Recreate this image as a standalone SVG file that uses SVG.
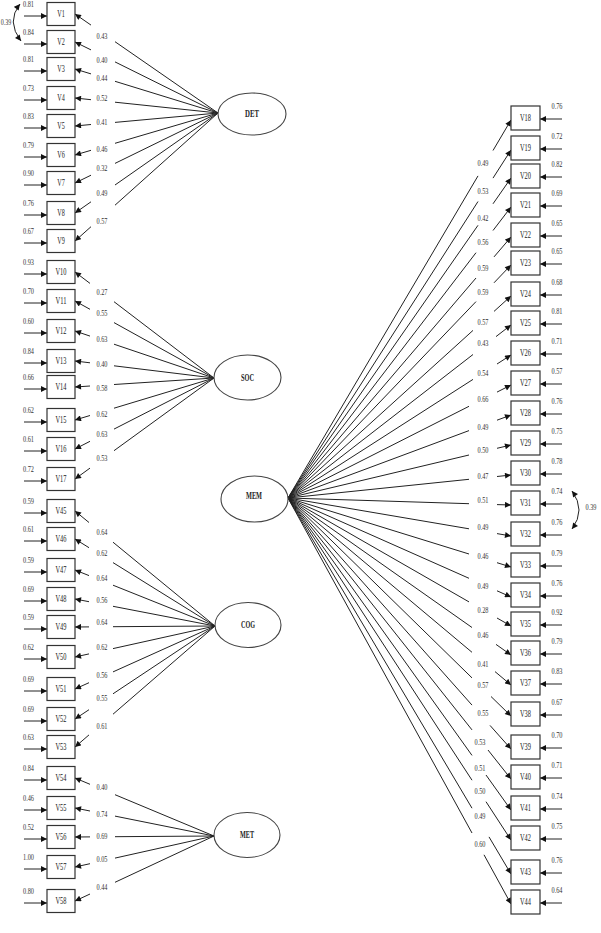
<svg xmlns="http://www.w3.org/2000/svg" width="601" height="933" viewBox="0 0 601 933">
<defs>
<style>
.box{fill:#fff;stroke:#333;stroke-width:1.2}
.lat{fill:#fff;stroke:#444;stroke-width:1.1}
.ln{stroke:#222;stroke-width:1;fill:none}
.ar{stroke:#222;stroke-width:1;fill:none;marker-end:url(#ah)}
.cv{stroke:#222;stroke-width:1;fill:none;marker-start:url(#ah);marker-end:url(#ah)}
.t{font-family:"Liberation Serif","Times New Roman",serif;font-size:8.5px;fill:#333;text-anchor:middle}
.v{font-family:"Liberation Serif","Times New Roman",serif;font-size:9.5px;fill:#222;text-anchor:middle}
.lt{font-family:"Liberation Serif","Times New Roman",serif;font-size:9.5px;font-weight:bold;fill:#222;text-anchor:middle}
</style>
<marker id="ah" viewBox="0 0 10 10" refX="10" refY="5" markerWidth="7" markerHeight="6" markerUnits="userSpaceOnUse" orient="auto-start-reverse"><path d="M0,0L10,5L0,10z" fill="#111"/></marker>
</defs>
<rect width="601" height="933" fill="#fff"/>

<g id="connectors">
<path class="ln" d="M218,113L115,41.7M218,113L115,61.9M218,113L115,81.3M218,113L115,102.2M218,113L115,122.4M218,113L115,143.3M218,113L115,163.4M218,113L115,185M218,113L115,205.2"/>
<path class="ar" d="M91,25.1L75,14"/><path class="ar" d="M91,49.9L75,42"/><path class="ar" d="M91,73.9L75,69"/><path class="ar" d="M91,99.7L75,98"/><path class="ar" d="M91,124.5L75,126"/><path class="ar" d="M91,150.3L75,155"/><path class="ar" d="M91,175.2L75,183"/><path class="ar" d="M91,201.8L75,213"/><path class="ar" d="M91,226.7L75,241"/>
<path class="ln" d="M214,378L114,301.7M214,378L114,322.6M214,378L114,344.2M214,378L114,365.8M214,378L114,384.5M214,378L114,408.2M214,378L114,429.1M214,378L114,450.7"/>
<path class="ar" d="M90,283.4L75,272"/><path class="ar" d="M90,309.3L75,301"/><path class="ar" d="M90,336.1L75,331"/><path class="ar" d="M90,362.8L75,361"/><path class="ar" d="M90,386L75,387"/><path class="ar" d="M90,415.5L75,420"/><path class="ar" d="M90,441.3L75,449"/><path class="ar" d="M90,468.1L75,479"/>
<path class="ln" d="M215,626L113,542.2M215,626L113,562.6M215,626L113,585.2M215,626L113,606.3M215,626L113,626.7M215,626L113,648.6M215,626L113,671.9M215,626L113,693.8M215,626L113,714.2"/>
<path class="ar" d="M89,522.5L75,511"/><path class="ar" d="M89,547.7L75,539"/><path class="ar" d="M89,575.6L75,570"/><path class="ar" d="M89,601.7L75,599"/><path class="ar" d="M89,626.9L75,627"/><path class="ar" d="M89,653.9L75,657"/><path class="ar" d="M89,682.7L75,689"/><path class="ar" d="M89,709.7L75,719"/><path class="ar" d="M89,734.9L75,747"/>
<path class="ln" d="M214,836L115,794.7M214,836L115,816.1M214,836L115,836.7M214,836L115,858.1M214,836L115,882.3"/>
<path class="ar" d="M90,784.3L75,778"/><path class="ar" d="M90,811L75,808"/><path class="ar" d="M90,836.9L75,837"/><path class="ar" d="M90,863.7L75,867"/><path class="ar" d="M90,894L75,901"/>
<path class="ln" d="M288,498L478,175.9M288,498L478,201.5M288,498L478,225.3M288,498L476,252.7M288,498L476,278M288,498L476,301.6M288,498L473,330.4M288,498L473,354.5M288,498L473,379.4M288,498L469,406.3M288,498L469,430.6M288,498L469,455M288,498L469,479.3M288,498L469,503.7M288,498L469,528.8M288,498L469,554M288,498L469,578.3M288,498L469,601.9M288,498L472,627.5M288,498L472,652.3M288,498L472,677.9M288,498L472,705.1M288,498L472,729.9M288,498L472,755.4M288,498L472,780.2M288,498L472,808.2M288,498L472,833"/>
<path class="ar" d="M493,150.5L511,120"/><path class="ar" d="M493,178.1L511,150"/><path class="ar" d="M493,203.8L511,178"/><path class="ar" d="M493,230.5L511,207"/><path class="ar" d="M494,256.9L511,237"/><path class="ar" d="M494,282.8L511,265"/><path class="ar" d="M494,311.4L511,296"/><path class="ar" d="M496,336.6L511,325"/><path class="ar" d="M497,364L511,355"/><path class="ar" d="M497,392.1L511,385"/><path class="ar" d="M497,420.2L511,415"/><path class="ar" d="M497,448.3L511,445"/><path class="ar" d="M497,476.5L511,475"/><path class="ar" d="M497,504.6L511,505"/><path class="ar" d="M497,533.6L511,536"/><path class="ar" d="M497,562.7L511,567"/><path class="ar" d="M497,590.8L511,597"/><path class="ar" d="M497,618L511,626"/><path class="ar" d="M496,644.4L511,655"/><path class="ar" d="M495,671.6L511,685"/><path class="ar" d="M491,696.5L511,716"/><path class="ar" d="M490,725.4L511,749"/><path class="ar" d="M488,750L511,779"/><path class="ar" d="M486,775L511,810"/><path class="ar" d="M486,801.7L511,840"/><path class="ar" d="M489,836.9L511,874"/><path class="ar" d="M484,854.8L511,904"/>
<path class="ar" d="M24,16H47"/><path class="ar" d="M24,44H47"/><path class="ar" d="M24,71H47"/><path class="ar" d="M24,100H47"/><path class="ar" d="M24,128H47"/><path class="ar" d="M24,157H47"/><path class="ar" d="M24,185H47"/><path class="ar" d="M24,215H47"/><path class="ar" d="M24,243H47"/><path class="ar" d="M24,274H47"/><path class="ar" d="M24,303H47"/><path class="ar" d="M24,333H47"/><path class="ar" d="M24,363H47"/><path class="ar" d="M24,389H47"/><path class="ar" d="M24,422H47"/><path class="ar" d="M24,451H47"/><path class="ar" d="M24,481H47"/><path class="ar" d="M24,513H47"/><path class="ar" d="M24,541H47"/><path class="ar" d="M24,572H47"/><path class="ar" d="M24,601H47"/><path class="ar" d="M24,629H47"/><path class="ar" d="M24,659H47"/><path class="ar" d="M24,691H47"/><path class="ar" d="M24,721H47"/><path class="ar" d="M24,749H47"/><path class="ar" d="M24,780H47"/><path class="ar" d="M24,810H47"/><path class="ar" d="M24,839H47"/><path class="ar" d="M24,869H47"/><path class="ar" d="M24,903H47"/>
<path class="ar" d="M562,119H540"/><path class="ar" d="M562,149H540"/><path class="ar" d="M562,177H540"/><path class="ar" d="M562,206H540"/><path class="ar" d="M562,236H540"/><path class="ar" d="M562,264H540"/><path class="ar" d="M562,295H540"/><path class="ar" d="M562,324H540"/><path class="ar" d="M562,354H540"/><path class="ar" d="M562,384H540"/><path class="ar" d="M562,414H540"/><path class="ar" d="M562,444H540"/><path class="ar" d="M562,474H540"/><path class="ar" d="M562,504H540"/><path class="ar" d="M562,535H540"/><path class="ar" d="M562,566H540"/><path class="ar" d="M562,596H540"/><path class="ar" d="M562,625H540"/><path class="ar" d="M562,654H540"/><path class="ar" d="M562,684H540"/><path class="ar" d="M562,715H540"/><path class="ar" d="M562,748H540"/><path class="ar" d="M562,778H540"/><path class="ar" d="M562,809H540"/><path class="ar" d="M562,839H540"/><path class="ar" d="M562,873H540"/><path class="ar" d="M562,903H540"/>
<path class="cv" d="M20,4Q6,21.5 21,41"/>
<path class="cv" d="M572,491Q586,510 572,529"/>
</g>

<g id="labels" class="t">
<text class="t" x="6" y="25" textLength="10.5" lengthAdjust="spacingAndGlyphs">0.39</text>
<text class="t" x="591" y="510" textLength="11" lengthAdjust="spacingAndGlyphs">0.39</text>
<text class="t" x="102" y="39" textLength="11" lengthAdjust="spacingAndGlyphs">0.43</text>
<text class="t" x="102" y="63" textLength="11" lengthAdjust="spacingAndGlyphs">0.40</text>
<text class="t" x="102" y="80.7" textLength="11" lengthAdjust="spacingAndGlyphs">0.44</text>
<text class="t" x="102" y="100.7" textLength="11" lengthAdjust="spacingAndGlyphs">0.52</text>
<text class="t" x="102" y="125" textLength="11" lengthAdjust="spacingAndGlyphs">0.41</text>
<text class="t" x="102" y="152" textLength="11" lengthAdjust="spacingAndGlyphs">0.46</text>
<text class="t" x="102" y="171" textLength="11" lengthAdjust="spacingAndGlyphs">0.32</text>
<text class="t" x="102" y="196" textLength="11" lengthAdjust="spacingAndGlyphs">0.49</text>
<text class="t" x="102" y="223.7" textLength="11" lengthAdjust="spacingAndGlyphs">0.57</text>
<text class="t" x="102" y="294.7" textLength="11" lengthAdjust="spacingAndGlyphs">0.27</text>
<text class="t" x="102" y="315.7" textLength="11" lengthAdjust="spacingAndGlyphs">0.55</text>
<text class="t" x="102" y="342" textLength="11" lengthAdjust="spacingAndGlyphs">0.63</text>
<text class="t" x="102" y="367" textLength="11" lengthAdjust="spacingAndGlyphs">0.40</text>
<text class="t" x="102" y="391" textLength="11" lengthAdjust="spacingAndGlyphs">0.58</text>
<text class="t" x="102" y="417" textLength="11" lengthAdjust="spacingAndGlyphs">0.62</text>
<text class="t" x="102" y="437" textLength="11" lengthAdjust="spacingAndGlyphs">0.63</text>
<text class="t" x="102" y="461" textLength="11" lengthAdjust="spacingAndGlyphs">0.53</text>
<text class="t" x="102" y="534.7" textLength="11" lengthAdjust="spacingAndGlyphs">0.64</text>
<text class="t" x="102" y="556" textLength="11" lengthAdjust="spacingAndGlyphs">0.62</text>
<text class="t" x="102" y="580.7" textLength="11" lengthAdjust="spacingAndGlyphs">0.64</text>
<text class="t" x="102" y="603" textLength="11" lengthAdjust="spacingAndGlyphs">0.56</text>
<text class="t" x="102" y="624.7" textLength="11" lengthAdjust="spacingAndGlyphs">0.64</text>
<text class="t" x="102" y="650" textLength="11" lengthAdjust="spacingAndGlyphs">0.62</text>
<text class="t" x="102" y="678" textLength="11" lengthAdjust="spacingAndGlyphs">0.56</text>
<text class="t" x="102" y="700.7" textLength="11" lengthAdjust="spacingAndGlyphs">0.55</text>
<text class="t" x="102" y="729" textLength="11" lengthAdjust="spacingAndGlyphs">0.61</text>
<text class="t" x="102" y="790" textLength="11" lengthAdjust="spacingAndGlyphs">0.40</text>
<text class="t" x="102" y="817" textLength="11" lengthAdjust="spacingAndGlyphs">0.74</text>
<text class="t" x="102" y="838.7" textLength="11" lengthAdjust="spacingAndGlyphs">0.69</text>
<text class="t" x="102" y="862" textLength="11" lengthAdjust="spacingAndGlyphs">0.05</text>
<text class="t" x="102" y="889.7" textLength="11" lengthAdjust="spacingAndGlyphs">0.44</text>
<text class="t" x="483" y="166.3" textLength="11" lengthAdjust="spacingAndGlyphs">0.49</text>
<text class="t" x="483" y="193.7" textLength="11" lengthAdjust="spacingAndGlyphs">0.53</text>
<text class="t" x="483" y="220.7" textLength="11" lengthAdjust="spacingAndGlyphs">0.42</text>
<text class="t" x="483" y="244.7" textLength="11" lengthAdjust="spacingAndGlyphs">0.56</text>
<text class="t" x="483" y="271.3" textLength="11" lengthAdjust="spacingAndGlyphs">0.59</text>
<text class="t" x="483" y="294.7" textLength="11" lengthAdjust="spacingAndGlyphs">0.59</text>
<text class="t" x="483" y="324.7" textLength="11" lengthAdjust="spacingAndGlyphs">0.57</text>
<text class="t" x="483" y="346.3" textLength="11" lengthAdjust="spacingAndGlyphs">0.43</text>
<text class="t" x="483" y="375.7" textLength="11" lengthAdjust="spacingAndGlyphs">0.54</text>
<text class="t" x="483" y="402.3" textLength="11" lengthAdjust="spacingAndGlyphs">0.66</text>
<text class="t" x="483" y="429.7" textLength="11" lengthAdjust="spacingAndGlyphs">0.49</text>
<text class="t" x="483" y="453" textLength="11" lengthAdjust="spacingAndGlyphs">0.50</text>
<text class="t" x="483" y="479" textLength="11" lengthAdjust="spacingAndGlyphs">0.47</text>
<text class="t" x="483" y="503" textLength="11" lengthAdjust="spacingAndGlyphs">0.51</text>
<text class="t" x="483" y="530.3" textLength="11" lengthAdjust="spacingAndGlyphs">0.49</text>
<text class="t" x="483" y="558.7" textLength="11" lengthAdjust="spacingAndGlyphs">0.46</text>
<text class="t" x="483" y="589" textLength="11" lengthAdjust="spacingAndGlyphs">0.49</text>
<text class="t" x="483" y="613" textLength="11" lengthAdjust="spacingAndGlyphs">0.28</text>
<text class="t" x="483" y="638" textLength="11" lengthAdjust="spacingAndGlyphs">0.46</text>
<text class="t" x="483" y="667.3" textLength="11" lengthAdjust="spacingAndGlyphs">0.41</text>
<text class="t" x="483" y="688" textLength="11" lengthAdjust="spacingAndGlyphs">0.57</text>
<text class="t" x="483" y="715.7" textLength="11" lengthAdjust="spacingAndGlyphs">0.55</text>
<text class="t" x="480" y="744.7" textLength="11" lengthAdjust="spacingAndGlyphs">0.53</text>
<text class="t" x="480" y="770.7" textLength="11" lengthAdjust="spacingAndGlyphs">0.51</text>
<text class="t" x="480" y="794" textLength="11" lengthAdjust="spacingAndGlyphs">0.50</text>
<text class="t" x="480" y="819" textLength="11" lengthAdjust="spacingAndGlyphs">0.49</text>
<text class="t" x="480" y="847.3" textLength="11" lengthAdjust="spacingAndGlyphs">0.60</text>
<text class="t" x="28.5" y="7" textLength="11" lengthAdjust="spacingAndGlyphs">0.81</text>
<text class="t" x="28.5" y="35" textLength="11" lengthAdjust="spacingAndGlyphs">0.84</text>
<text class="t" x="28.5" y="62" textLength="11" lengthAdjust="spacingAndGlyphs">0.81</text>
<text class="t" x="28.5" y="91" textLength="11" lengthAdjust="spacingAndGlyphs">0.73</text>
<text class="t" x="28.5" y="119" textLength="11" lengthAdjust="spacingAndGlyphs">0.83</text>
<text class="t" x="28.5" y="148" textLength="11" lengthAdjust="spacingAndGlyphs">0.79</text>
<text class="t" x="28.5" y="176" textLength="11" lengthAdjust="spacingAndGlyphs">0.90</text>
<text class="t" x="28.5" y="206" textLength="11" lengthAdjust="spacingAndGlyphs">0.76</text>
<text class="t" x="28.5" y="234" textLength="11" lengthAdjust="spacingAndGlyphs">0.67</text>
<text class="t" x="28.5" y="265" textLength="11" lengthAdjust="spacingAndGlyphs">0.93</text>
<text class="t" x="28.5" y="294" textLength="11" lengthAdjust="spacingAndGlyphs">0.70</text>
<text class="t" x="28.5" y="324" textLength="11" lengthAdjust="spacingAndGlyphs">0.60</text>
<text class="t" x="28.5" y="354" textLength="11" lengthAdjust="spacingAndGlyphs">0.84</text>
<text class="t" x="28.5" y="380" textLength="11" lengthAdjust="spacingAndGlyphs">0.66</text>
<text class="t" x="28.5" y="413" textLength="11" lengthAdjust="spacingAndGlyphs">0.62</text>
<text class="t" x="28.5" y="442" textLength="11" lengthAdjust="spacingAndGlyphs">0.61</text>
<text class="t" x="28.5" y="472" textLength="11" lengthAdjust="spacingAndGlyphs">0.72</text>
<text class="t" x="28.5" y="504" textLength="11" lengthAdjust="spacingAndGlyphs">0.59</text>
<text class="t" x="28.5" y="532" textLength="11" lengthAdjust="spacingAndGlyphs">0.61</text>
<text class="t" x="28.5" y="563" textLength="11" lengthAdjust="spacingAndGlyphs">0.59</text>
<text class="t" x="28.5" y="592" textLength="11" lengthAdjust="spacingAndGlyphs">0.69</text>
<text class="t" x="28.5" y="620" textLength="11" lengthAdjust="spacingAndGlyphs">0.59</text>
<text class="t" x="28.5" y="650" textLength="11" lengthAdjust="spacingAndGlyphs">0.62</text>
<text class="t" x="28.5" y="682" textLength="11" lengthAdjust="spacingAndGlyphs">0.69</text>
<text class="t" x="28.5" y="712" textLength="11" lengthAdjust="spacingAndGlyphs">0.69</text>
<text class="t" x="28.5" y="740" textLength="11" lengthAdjust="spacingAndGlyphs">0.63</text>
<text class="t" x="28.5" y="771" textLength="11" lengthAdjust="spacingAndGlyphs">0.84</text>
<text class="t" x="28.5" y="801" textLength="11" lengthAdjust="spacingAndGlyphs">0.46</text>
<text class="t" x="28.5" y="830" textLength="11" lengthAdjust="spacingAndGlyphs">0.52</text>
<text class="t" x="28.5" y="860" textLength="11" lengthAdjust="spacingAndGlyphs">1.00</text>
<text class="t" x="28.5" y="894" textLength="11" lengthAdjust="spacingAndGlyphs">0.80</text>
<text class="t" x="557" y="109" textLength="11" lengthAdjust="spacingAndGlyphs">0.76</text>
<text class="t" x="557" y="139" textLength="11" lengthAdjust="spacingAndGlyphs">0.72</text>
<text class="t" x="557" y="167" textLength="11" lengthAdjust="spacingAndGlyphs">0.82</text>
<text class="t" x="557" y="196" textLength="11" lengthAdjust="spacingAndGlyphs">0.69</text>
<text class="t" x="557" y="226" textLength="11" lengthAdjust="spacingAndGlyphs">0.65</text>
<text class="t" x="557" y="254" textLength="11" lengthAdjust="spacingAndGlyphs">0.65</text>
<text class="t" x="557" y="285" textLength="11" lengthAdjust="spacingAndGlyphs">0.68</text>
<text class="t" x="557" y="314" textLength="11" lengthAdjust="spacingAndGlyphs">0.81</text>
<text class="t" x="557" y="344" textLength="11" lengthAdjust="spacingAndGlyphs">0.71</text>
<text class="t" x="557" y="374" textLength="11" lengthAdjust="spacingAndGlyphs">0.57</text>
<text class="t" x="557" y="404" textLength="11" lengthAdjust="spacingAndGlyphs">0.76</text>
<text class="t" x="557" y="434" textLength="11" lengthAdjust="spacingAndGlyphs">0.75</text>
<text class="t" x="557" y="464" textLength="11" lengthAdjust="spacingAndGlyphs">0.78</text>
<text class="t" x="557" y="494" textLength="11" lengthAdjust="spacingAndGlyphs">0.74</text>
<text class="t" x="557" y="525" textLength="11" lengthAdjust="spacingAndGlyphs">0.76</text>
<text class="t" x="557" y="556" textLength="11" lengthAdjust="spacingAndGlyphs">0.79</text>
<text class="t" x="557" y="586" textLength="11" lengthAdjust="spacingAndGlyphs">0.76</text>
<text class="t" x="557" y="615" textLength="11" lengthAdjust="spacingAndGlyphs">0.92</text>
<text class="t" x="557" y="644" textLength="11" lengthAdjust="spacingAndGlyphs">0.79</text>
<text class="t" x="557" y="674" textLength="11" lengthAdjust="spacingAndGlyphs">0.83</text>
<text class="t" x="557" y="705" textLength="11" lengthAdjust="spacingAndGlyphs">0.67</text>
<text class="t" x="557" y="738" textLength="11" lengthAdjust="spacingAndGlyphs">0.70</text>
<text class="t" x="557" y="768" textLength="11" lengthAdjust="spacingAndGlyphs">0.71</text>
<text class="t" x="557" y="799" textLength="11" lengthAdjust="spacingAndGlyphs">0.74</text>
<text class="t" x="557" y="829" textLength="11" lengthAdjust="spacingAndGlyphs">0.75</text>
<text class="t" x="557" y="863" textLength="11" lengthAdjust="spacingAndGlyphs">0.76</text>
<text class="t" x="557" y="893" textLength="11" lengthAdjust="spacingAndGlyphs">0.64</text>
</g>

<g id="DET"><ellipse class="lat" cx="252" cy="114" rx="34" ry="21"/><text class="lt" x="252" y="117" textLength="14" lengthAdjust="spacingAndGlyphs">DET</text></g>
<g id="SOC"><ellipse class="lat" cx="247.5" cy="377.5" rx="33.5" ry="22.5"/><text class="lt" x="247.5" y="380.5" textLength="13" lengthAdjust="spacingAndGlyphs">SOC</text></g>
<g id="COG"><ellipse class="lat" cx="248" cy="625" rx="33" ry="22.5"/><text class="lt" x="248" y="628" textLength="14" lengthAdjust="spacingAndGlyphs">COG</text></g>
<g id="MET"><ellipse class="lat" cx="247" cy="835" rx="33" ry="22.5"/><text class="lt" x="247" y="838" textLength="14" lengthAdjust="spacingAndGlyphs">MET</text></g>
<g id="MEM"><ellipse class="lat" cx="254.5" cy="499" rx="33.5" ry="23"/><text class="lt" x="254" y="499" textLength="16" lengthAdjust="spacingAndGlyphs">MEM</text></g>

<g id="V1"><rect class="box" x="47" y="2.5" width="28" height="23"/><text class="v" x="61" y="17" textLength="7.5" lengthAdjust="spacingAndGlyphs">V1</text></g>
<g id="V2"><rect class="box" x="47" y="30.5" width="28" height="23"/><text class="v" x="61" y="45" textLength="7.5" lengthAdjust="spacingAndGlyphs">V2</text></g>
<g id="V3"><rect class="box" x="47" y="57.5" width="28" height="23"/><text class="v" x="61" y="72" textLength="7.5" lengthAdjust="spacingAndGlyphs">V3</text></g>
<g id="V4"><rect class="box" x="47" y="86.5" width="28" height="23"/><text class="v" x="61" y="101" textLength="7.5" lengthAdjust="spacingAndGlyphs">V4</text></g>
<g id="V5"><rect class="box" x="47" y="114.5" width="28" height="23"/><text class="v" x="61" y="129" textLength="7.5" lengthAdjust="spacingAndGlyphs">V5</text></g>
<g id="V6"><rect class="box" x="47" y="143.5" width="28" height="23"/><text class="v" x="61" y="158" textLength="7.5" lengthAdjust="spacingAndGlyphs">V6</text></g>
<g id="V7"><rect class="box" x="47" y="171.5" width="28" height="23"/><text class="v" x="61" y="186" textLength="7.5" lengthAdjust="spacingAndGlyphs">V7</text></g>
<g id="V8"><rect class="box" x="47" y="201.5" width="28" height="23"/><text class="v" x="61" y="216" textLength="7.5" lengthAdjust="spacingAndGlyphs">V8</text></g>
<g id="V9"><rect class="box" x="47" y="229.5" width="28" height="23"/><text class="v" x="61" y="244" textLength="7.5" lengthAdjust="spacingAndGlyphs">V9</text></g>
<g id="V10"><rect class="box" x="47" y="260.5" width="28" height="23"/><text class="v" x="61" y="275" textLength="11" lengthAdjust="spacingAndGlyphs">V10</text></g>
<g id="V11"><rect class="box" x="47" y="289.5" width="28" height="23"/><text class="v" x="61" y="304" textLength="11" lengthAdjust="spacingAndGlyphs">V11</text></g>
<g id="V12"><rect class="box" x="47" y="319.5" width="28" height="23"/><text class="v" x="61" y="334" textLength="11" lengthAdjust="spacingAndGlyphs">V12</text></g>
<g id="V13"><rect class="box" x="47" y="349.5" width="28" height="23"/><text class="v" x="61" y="364" textLength="11" lengthAdjust="spacingAndGlyphs">V13</text></g>
<g id="V14"><rect class="box" x="47" y="375.5" width="28" height="23"/><text class="v" x="61" y="390" textLength="11" lengthAdjust="spacingAndGlyphs">V14</text></g>
<g id="V15"><rect class="box" x="47" y="408.5" width="28" height="23"/><text class="v" x="61" y="423" textLength="11" lengthAdjust="spacingAndGlyphs">V15</text></g>
<g id="V16"><rect class="box" x="47" y="437.5" width="28" height="23"/><text class="v" x="61" y="452" textLength="11" lengthAdjust="spacingAndGlyphs">V16</text></g>
<g id="V17"><rect class="box" x="47" y="467.5" width="28" height="23"/><text class="v" x="61" y="482" textLength="11" lengthAdjust="spacingAndGlyphs">V17</text></g>
<g id="V45"><rect class="box" x="47" y="499.5" width="28" height="23"/><text class="v" x="61" y="514" textLength="11" lengthAdjust="spacingAndGlyphs">V45</text></g>
<g id="V46"><rect class="box" x="47" y="527.5" width="28" height="23"/><text class="v" x="61" y="542" textLength="11" lengthAdjust="spacingAndGlyphs">V46</text></g>
<g id="V47"><rect class="box" x="47" y="558.5" width="28" height="23"/><text class="v" x="61" y="573" textLength="11" lengthAdjust="spacingAndGlyphs">V47</text></g>
<g id="V48"><rect class="box" x="47" y="587.5" width="28" height="23"/><text class="v" x="61" y="602" textLength="11" lengthAdjust="spacingAndGlyphs">V48</text></g>
<g id="V49"><rect class="box" x="47" y="615.5" width="28" height="23"/><text class="v" x="61" y="630" textLength="11" lengthAdjust="spacingAndGlyphs">V49</text></g>
<g id="V50"><rect class="box" x="47" y="645.5" width="28" height="23"/><text class="v" x="61" y="660" textLength="11" lengthAdjust="spacingAndGlyphs">V50</text></g>
<g id="V51"><rect class="box" x="47" y="677.5" width="28" height="23"/><text class="v" x="61" y="692" textLength="11" lengthAdjust="spacingAndGlyphs">V51</text></g>
<g id="V52"><rect class="box" x="47" y="707.5" width="28" height="23"/><text class="v" x="61" y="722" textLength="11" lengthAdjust="spacingAndGlyphs">V52</text></g>
<g id="V53"><rect class="box" x="47" y="735.5" width="28" height="23"/><text class="v" x="61" y="750" textLength="11" lengthAdjust="spacingAndGlyphs">V53</text></g>
<g id="V54"><rect class="box" x="47" y="766.5" width="28" height="23"/><text class="v" x="61" y="781" textLength="11" lengthAdjust="spacingAndGlyphs">V54</text></g>
<g id="V55"><rect class="box" x="47" y="796.5" width="28" height="23"/><text class="v" x="61" y="811" textLength="11" lengthAdjust="spacingAndGlyphs">V55</text></g>
<g id="V56"><rect class="box" x="47" y="825.5" width="28" height="23"/><text class="v" x="61" y="840" textLength="11" lengthAdjust="spacingAndGlyphs">V56</text></g>
<g id="V57"><rect class="box" x="47" y="855.5" width="28" height="23"/><text class="v" x="61" y="870" textLength="11" lengthAdjust="spacingAndGlyphs">V57</text></g>
<g id="V58"><rect class="box" x="47" y="889.5" width="28" height="23"/><text class="v" x="61" y="904" textLength="11" lengthAdjust="spacingAndGlyphs">V58</text></g>

<g id="V18"><rect class="box" x="511" y="106" width="29" height="24"/><text class="v" x="525.5" y="121" textLength="11" lengthAdjust="spacingAndGlyphs">V18</text></g>
<g id="V19"><rect class="box" x="511" y="136" width="29" height="24"/><text class="v" x="525.5" y="151" textLength="11" lengthAdjust="spacingAndGlyphs">V19</text></g>
<g id="V20"><rect class="box" x="511" y="164" width="29" height="24"/><text class="v" x="525.5" y="179" textLength="11" lengthAdjust="spacingAndGlyphs">V20</text></g>
<g id="V21"><rect class="box" x="511" y="193" width="29" height="24"/><text class="v" x="525.5" y="208" textLength="11" lengthAdjust="spacingAndGlyphs">V21</text></g>
<g id="V22"><rect class="box" x="511" y="223" width="29" height="24"/><text class="v" x="525.5" y="238" textLength="11" lengthAdjust="spacingAndGlyphs">V22</text></g>
<g id="V23"><rect class="box" x="511" y="251" width="29" height="24"/><text class="v" x="525.5" y="266" textLength="11" lengthAdjust="spacingAndGlyphs">V23</text></g>
<g id="V24"><rect class="box" x="511" y="282" width="29" height="24"/><text class="v" x="525.5" y="297" textLength="11" lengthAdjust="spacingAndGlyphs">V24</text></g>
<g id="V25"><rect class="box" x="511" y="311" width="29" height="24"/><text class="v" x="525.5" y="326" textLength="11" lengthAdjust="spacingAndGlyphs">V25</text></g>
<g id="V26"><rect class="box" x="511" y="341" width="29" height="24"/><text class="v" x="525.5" y="356" textLength="11" lengthAdjust="spacingAndGlyphs">V26</text></g>
<g id="V27"><rect class="box" x="511" y="371" width="29" height="24"/><text class="v" x="525.5" y="386" textLength="11" lengthAdjust="spacingAndGlyphs">V27</text></g>
<g id="V28"><rect class="box" x="511" y="401" width="29" height="24"/><text class="v" x="525.5" y="416" textLength="11" lengthAdjust="spacingAndGlyphs">V28</text></g>
<g id="V29"><rect class="box" x="511" y="431" width="29" height="24"/><text class="v" x="525.5" y="446" textLength="11" lengthAdjust="spacingAndGlyphs">V29</text></g>
<g id="V30"><rect class="box" x="511" y="461" width="29" height="24"/><text class="v" x="525.5" y="476" textLength="11" lengthAdjust="spacingAndGlyphs">V30</text></g>
<g id="V31"><rect class="box" x="511" y="491" width="29" height="24"/><text class="v" x="525.5" y="506" textLength="11" lengthAdjust="spacingAndGlyphs">V31</text></g>
<g id="V32"><rect class="box" x="511" y="522" width="29" height="24"/><text class="v" x="525.5" y="537" textLength="11" lengthAdjust="spacingAndGlyphs">V32</text></g>
<g id="V33"><rect class="box" x="511" y="553" width="29" height="24"/><text class="v" x="525.5" y="568" textLength="11" lengthAdjust="spacingAndGlyphs">V33</text></g>
<g id="V34"><rect class="box" x="511" y="583" width="29" height="24"/><text class="v" x="525.5" y="598" textLength="11" lengthAdjust="spacingAndGlyphs">V34</text></g>
<g id="V35"><rect class="box" x="511" y="612" width="29" height="24"/><text class="v" x="525.5" y="627" textLength="11" lengthAdjust="spacingAndGlyphs">V35</text></g>
<g id="V36"><rect class="box" x="511" y="641" width="29" height="24"/><text class="v" x="525.5" y="656" textLength="11" lengthAdjust="spacingAndGlyphs">V36</text></g>
<g id="V37"><rect class="box" x="511" y="671" width="29" height="24"/><text class="v" x="525.5" y="686" textLength="11" lengthAdjust="spacingAndGlyphs">V37</text></g>
<g id="V38"><rect class="box" x="511" y="702" width="29" height="24"/><text class="v" x="525.5" y="717" textLength="11" lengthAdjust="spacingAndGlyphs">V38</text></g>
<g id="V39"><rect class="box" x="511" y="735" width="29" height="24"/><text class="v" x="525.5" y="750" textLength="11" lengthAdjust="spacingAndGlyphs">V39</text></g>
<g id="V40"><rect class="box" x="511" y="765" width="29" height="24"/><text class="v" x="525.5" y="780" textLength="11" lengthAdjust="spacingAndGlyphs">V40</text></g>
<g id="V41"><rect class="box" x="511" y="796" width="29" height="24"/><text class="v" x="525.5" y="811" textLength="11" lengthAdjust="spacingAndGlyphs">V41</text></g>
<g id="V42"><rect class="box" x="511" y="826" width="29" height="24"/><text class="v" x="525.5" y="841" textLength="11" lengthAdjust="spacingAndGlyphs">V42</text></g>
<g id="V43"><rect class="box" x="511" y="860" width="29" height="24"/><text class="v" x="525.5" y="875" textLength="11" lengthAdjust="spacingAndGlyphs">V43</text></g>
<g id="V44"><rect class="box" x="511" y="890" width="29" height="24"/><text class="v" x="525.5" y="905" textLength="11" lengthAdjust="spacingAndGlyphs">V44</text></g>
</svg>
